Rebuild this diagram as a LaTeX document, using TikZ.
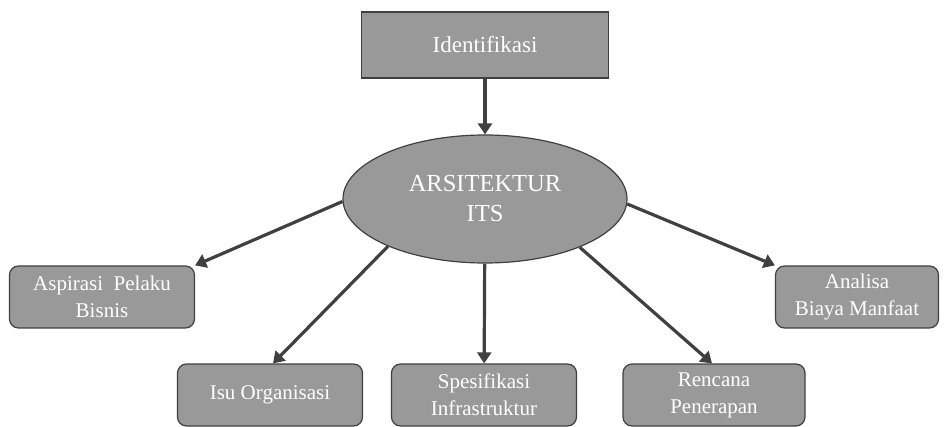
\documentclass[tikz,border=0pt]{standalone}
\usepackage{fontspec}
\setmainfont{Liberation Serif}
\usetikzlibrary{arrows.meta,shapes.geometric}
\definecolor{boxgray}{RGB}{153,153,153}
\definecolor{edgegray}{RGB}{64,64,64}
\tikzset{
  topbox/.style={draw=edgegray,line width=1.2pt,fill=boxgray,text=white,
    minimum width=247pt,minimum height=66pt,font=\fontsize{23}{27}\selectfont},
  hub/.style={ellipse,draw=edgegray,line width=1.2pt,fill=boxgray,text=white,
    minimum width=284pt,minimum height=128pt,align=center,
    font=\fontsize{24.5}{30}\selectfont},
  item/.style={draw=edgegray,line width=1.2pt,fill=boxgray,text=white,
    rounded corners=9pt,minimum height=62pt,align=center,
    font=\fontsize{21}{27}\selectfont},
  link/.style={draw=edgegray,line width=3.2pt,-{Triangle[length=11pt,width=14pt]}}
}
\begin{document}
\begin{tikzpicture}[x=1pt,y=-1pt]
  \useasboundingbox (0,0) rectangle (947,427);
  % boxes
  \node[topbox] (ident) at (485,45) {Identifikasi};
  \node[hub] (its) at (485,199) {ARSITEKTUR\\ITS};
  \node[item,minimum width=185pt] (asp) at (102,297) {Aspirasi~ Pelaku\\Bisnis};
  \node[item,minimum width=185pt] (isu) at (270,395) {Isu Organisasi};
  \node[item,minimum width=185pt] (spek) at (484,395) {Spesifikasi\\Infrastruktur};
  \node[item,minimum width=182pt] (renc) at (714,395) {Rencana\\Penerapan};
  \node[item,minimum width=163pt] (anal) at (857,297) {Analisa\\Biaya Manfaat};
  % arrows
  \draw[link] (ident) -- (its);
  \draw[link] (its.181) -- (asp.north east);
  \draw[link] (its.206) -- ([xshift=3pt]isu.north);
  \draw[link] (its) -- (spek);
  \draw[link] (its.333) -- ([xshift=-2pt]renc.north);
  \draw[link] (its.358) -- (anal.north west);
\end{tikzpicture}
\end{document}
